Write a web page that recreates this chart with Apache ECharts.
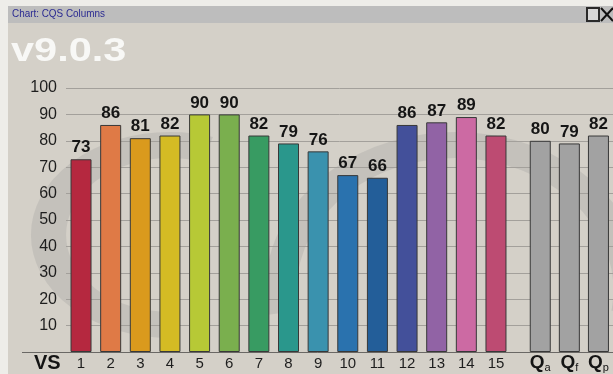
<!DOCTYPE html>
<html>
<head>
<meta charset="utf-8">
<script src="https://cdn.jsdelivr.net/npm/echarts@6/dist/echarts.min.js"></script>
<style>
  html, body { margin: 0; padding: 0; background: #eeede9; }
  #chart { width: 613px; height: 374px; }
</style>
</head>
<body>
<div id="chart"></div>
<script>
// Voice-set scores (VS 1..15) and the three quality summaries
const vsCategories = ['1','2','3','4','5','6','7','8','9','10','11','12','13','14','15'];
const vsValues = [73, 86, 81, 82, 90, 90, 82, 79, 76, 67, 66, 86, 87, 89, 82];
const vsColors = ['#b5283f','#df7a46','#da9a1d','#d4bb24','#b7c936','#7aaf4e','#389b62',
                  '#2a978c','#3a92ae','#2a72ae','#235e99','#43509a','#9163a5','#cc6aa3','#bd4b72'];
const qSubscripts = ['a', 'f', 'p'];
const qValues = [80, 79, 82];
const yTicks = [10, 20, 30, 40, 50, 60, 70, 80, 90, 100];

const FONT = 'Liberation Sans, Arial, sans-serif';
const chart = echarts.init(document.getElementById('chart'), null, { renderer: 'canvas' });

const hiddenY = (gi) => ({
  type: 'value', gridIndex: gi, min: 0, max: 100, interval: 10,
  show: false, splitLine: { show: false }
});

const valueLabel = {
  show: true, position: 'top', distance: 3,
  fontFamily: FONT, fontWeight: 'bold', fontSize: 17, color: '#151515'
};

const WM = 'rgba(150,150,150,0.26)';

chart.setOption({
  backgroundColor: 'transparent',
  animation: false,
  grid: [
    { left: 66, right: 0, top: 88, bottom: 22 },          // background grid: ticks + gridlines
    { left: 66.2, width: 444.6, top: 88, bottom: 22 },   // VS bars
    { left: 525.7, width: 88.9, top: 88, bottom: 22 }    // Q bars
  ],
  xAxis: [
    { type: 'category', gridIndex: 0, data: [''], show: false },
    {
      type: 'category', gridIndex: 1, data: vsCategories,
      axisLine: { show: false }, axisTick: { show: false },
      axisLabel: { margin: 4, fontFamily: FONT, fontSize: 15, color: '#1e1e1e' }
    },
    {
      type: 'category', gridIndex: 2, data: qSubscripts,
      axisLine: { show: false }, axisTick: { show: false },
      axisLabel: {
        margin: 1, interval: 0,
        formatter: (s) => '{q|Q}{s|' + s + '}',
        rich: {
          q: { fontFamily: FONT, fontWeight: 'bold', fontSize: 19, color: '#141414', lineHeight: 20 },
          s: { fontFamily: FONT, fontSize: 11, color: '#141414', padding: [9, 0, 0, 0], lineHeight: 20 }
        }
      }
    }
  ],
  yAxis: [
    {
      type: 'value', gridIndex: 0, min: 0, max: 100, interval: 10,
      axisLine: { show: false }, axisTick: { show: false },
      axisLabel: {
        margin: 9, fontFamily: FONT, fontSize: 16, color: '#1e1e1e',
        formatter: (v) => (yTicks.indexOf(v) >= 0 ? String(v) : '')
      },
      splitLine: { show: true, lineStyle: { color: '#a3a09b', width: 1 } }
    },
    hiddenY(1),
    hiddenY(2)
  ],
  series: [
    {
      type: 'bar', xAxisIndex: 1, yAxisIndex: 1, barWidth: 21, z: 3,
      data: vsValues.map((v, i) => ({ value: v, itemStyle: { color: vsColors[i] } })),
      itemStyle: { borderColor: '#383838', borderWidth: 1 },
      label: valueLabel
    },
    {
      type: 'bar', xAxisIndex: 2, yAxisIndex: 2, barWidth: 21, z: 3,
      data: qValues,
      itemStyle: { color: '#a2a2a2', borderColor: '#383838', borderWidth: 1 },
      label: valueLabel
    }
  ],
  graphic: [
    // window panel and title bar
    { type: 'rect', z: -30, shape: { x: 8, y: 6, width: 605, height: 368 }, style: { fill: '#d4d0c8' } },
    { type: 'rect', z: -29, shape: { x: 8, y: 6, width: 605, height: 17 }, style: { fill: '#bdbdbd' } },
    { type: 'text', z: 10, x: 12, y: 8, scaleX: 0.9,
      style: { text: 'Chart: CQS Columns', font: '11px ' + FONT, fill: '#2b2b92' } },
    { type: 'rect', z: 10, shape: { x: 587, y: 8, width: 12, height: 13 },
      style: { fill: '#d8d8d8', stroke: '#2a2a2a', lineWidth: 2 } },
    { type: 'polyline', z: 10, shape: { points: [[601, 8], [613, 21]] }, style: { stroke: '#111', lineWidth: 2 } },
    { type: 'polyline', z: 10, shape: { points: [[613, 8], [601, 21]] }, style: { stroke: '#111', lineWidth: 2 } },
    // version stamp
    { type: 'text', z: 10, x: 11, y: 35, scaleX: 1.22,
      style: { text: 'v9.0.3', font: 'bold 34px ' + FONT, fill: '#f8f8f6' } },
    // faint logo watermark behind the plot
    { type: 'arc', z: -20, x: 170, y: 235, scaleX: 1.35, scaleY: 1,
      shape: { cx: 0, cy: 0, r: 90, startAngle: Math.PI * 0.5, endAngle: Math.PI * 1.6, clockwise: true },
      style: { fill: 'none', stroke: WM, lineWidth: 26 } },
    { type: 'arc', z: -20, x: 455, y: 290, scaleX: 1.2, scaleY: 1,
      shape: { cx: 0, cy: 0, r: 145, startAngle: Math.PI * 0.95, endAngle: Math.PI * 2.05, clockwise: true },
      style: { fill: 'none', stroke: WM, lineWidth: 26 } },
    // base line and series caption
    { type: 'line', z: 5, shape: { x1: 22, y1: 352.5, x2: 613, y2: 352.5 },
      style: { stroke: '#6a6865', lineWidth: 1 } },
    { type: 'text', z: 10, x: 34, y: 353,
      style: { text: 'VS', font: 'bold 20px ' + FONT, fill: '#141414' } }
  ]
});
</script>
</body>
</html>
